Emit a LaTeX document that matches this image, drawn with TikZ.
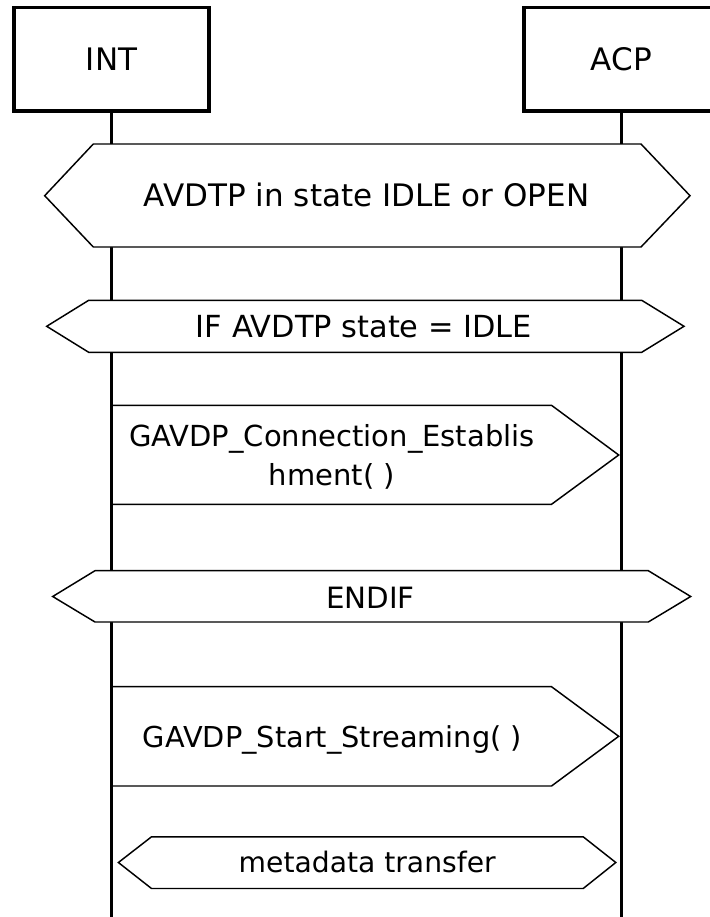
\documentclass[tikz,border=0pt]{standalone}
\usepackage{fontspec}
\setmainfont{DejaVu Sans}
\begin{document}
\begin{tikzpicture}[x=0.75pt,y=-0.75pt,
  headbox/.style={draw,line width=2.6pt,minimum width=146.25pt,minimum height=77.5pt,inner sep=0pt,font=\fontsize{23.25pt}{28pt}\selectfont},
  lifeline/.style={line width=2.5pt},
  condbox/.style={draw,line width=1.1pt,fill=white,line join=miter},
  msgbox/.style={draw,line width=1.1pt,line join=miter},
  lbl/.style={anchor=base,inner sep=0pt}]
\clip (0,0) rectangle (710,917);
\fill[white] (0,0) rectangle (710,917);
% lifeline heads
\node[headbox] (int) at (111.5,59.35) {INT};
\node[headbox] (acp) at (621.3,59.35) {ACP};
\coordinate (intend) at (111.5,925);
\coordinate (acpend) at (621.3,925);
\draw[lifeline] (int.south) -- (intend);
\draw[lifeline] (acp.south) -- (acpend);
% condition 1
\coordinate (c1a) at (44.7,195.7);
\coordinate (c1b) at (93.3,144);
\coordinate (c1c) at (641,144);
\coordinate (c1d) at (690,195.7);
\coordinate (c1e) at (641,247);
\coordinate (c1f) at (93.3,247);
\draw[condbox] (c1a) -- (c1b) -- (c1c) -- (c1d) -- (c1e) -- (c1f) -- cycle;
\node[lbl,font=\fontsize{23.25pt}{28pt}\selectfont] (t1) at (366.7,206.7) {AVDTP in state IDLE or OPEN};
% condition 2
\coordinate (c2a) at (46.7,326.3);
\coordinate (c2b) at (88.7,300.3);
\coordinate (c2c) at (641.7,300.3);
\coordinate (c2d) at (684,326.3);
\coordinate (c2e) at (641.7,352.3);
\coordinate (c2f) at (88.7,352.3);
\draw[condbox] (c2a) -- (c2b) -- (c2c) -- (c2d) -- (c2e) -- (c2f) -- cycle;
\node[lbl,font=\fontsize{22.8pt}{28pt}\selectfont] (t2) at (364,337.3) {IF AVDTP state = IDLE};
% message 1
\coordinate (m1a) at (111.5,405.3);
\coordinate (m1b) at (551.5,405.3);
\coordinate (m1c) at (618.7,455);
\coordinate (m1d) at (551.5,504.3);
\coordinate (m1e) at (111.5,504.3);
\draw[msgbox] (m1a) -- (m1b) -- (m1c) -- (m1d) -- (m1e) -- cycle;
\node[lbl,font=\fontsize{21.75pt}{28pt}\selectfont] (t3a) at (332,446.7) {GAVDP\_Connection\_Establis};
\node[lbl,font=\fontsize{21.75pt}{28pt}\selectfont] (t3b) at (332,485) {hment( )};
% condition 3
\coordinate (c3a) at (52.7,596.5);
\coordinate (c3b) at (95,570.7);
\coordinate (c3c) at (648.3,570.7);
\coordinate (c3d) at (690.7,596.5);
\coordinate (c3e) at (648.3,622);
\coordinate (c3f) at (95,622);
\draw[condbox] (c3a) -- (c3b) -- (c3c) -- (c3d) -- (c3e) -- (c3f) -- cycle;
\node[lbl,font=\fontsize{22pt}{28pt}\selectfont] (t4) at (370.4,608.3) {ENDIF};
% message 2
\coordinate (m2a) at (111.5,686.7);
\coordinate (m2b) at (551.5,686.7);
\coordinate (m2c) at (618.7,736.3);
\coordinate (m2d) at (551.5,786);
\coordinate (m2e) at (111.5,786);
\draw[msgbox] (m2a) -- (m2b) -- (m2c) -- (m2d) -- (m2e) -- cycle;
\node[lbl,font=\fontsize{21.6pt}{28pt}\selectfont] (t5) at (332.4,747.3) {GAVDP\_Start\_Streaming( )};
% condition 4
\coordinate (c4a) at (118.4,862.5);
\coordinate (c4b) at (151.5,836.8);
\coordinate (c4c) at (583.2,836.8);
\coordinate (c4d) at (615.8,862.5);
\coordinate (c4e) at (583.2,888.5);
\coordinate (c4f) at (151.5,888.5);
\draw[condbox] (c4a) -- (c4b) -- (c4c) -- (c4d) -- (c4e) -- (c4f) -- cycle;
\node[lbl,font=\fontsize{21.15pt}{28pt}\selectfont] (t6) at (367.2,872.7) {metadata transfer};
\end{tikzpicture}
\end{document}
